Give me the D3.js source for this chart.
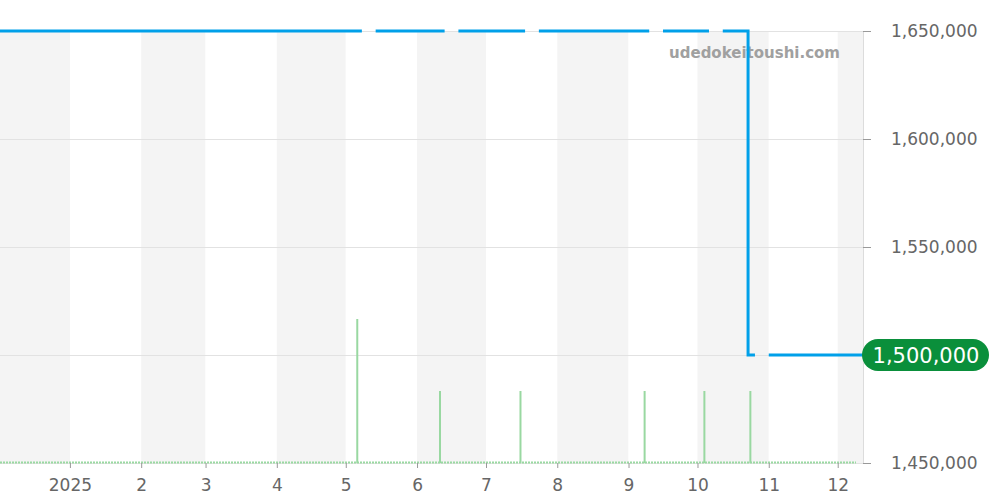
<!DOCTYPE html>
<html>
<head>
<meta charset="utf-8">
<script src="https://cdn.jsdelivr.net/npm/d3@7"></script>
<style>
  body { margin: 0; background: #fff; }
  text { font-family: "DejaVu Sans", sans-serif; }
</style>
</head>
<body>
<div id="chart"></div>
<script>
  var width = 1000,
  height = 500;

  // price series, null = no data (gap in the line)
  var priceDates = ["2024-12-01", "2025-05-08", "2025-05-11", "2025-05-14", "2025-06-13", "2025-06-16",
    "2025-06-19", "2025-07-18", "2025-07-21", "2025-07-24", "2025-09-10", "2025-09-13",
    "2025-09-16", "2025-10-06", "2025-10-09", "2025-10-12", "2025-10-23", "2025-10-26",
    "2025-10-29", "2025-11-01", "2025-12-12"];
  var priceValues = [1650000, 1650000, null, 1650000, 1650000, null,
    1650000, 1650000, null, 1650000, 1650000, null,
    1650000, 1650000, null, 1650000, 1500000, 1500000,
    null, 1500000, 1500000];

  // listing counts (green sticks)
  var countDates = ["2025-05-06", "2025-06-11", "2025-07-16", "2025-09-08", "2025-10-04", "2025-10-24"];
  var countValues = [2, 1, 1, 1, 1, 1];

  var yTicks = [1450000, 1500000, 1550000, 1600000, 1650000];
  var lastPrice = 1500000;

  var parse = d3.timeParse("%Y-%m-%d");

  var plotLeft = 0, plotRight = 863, plotTop = 31, plotBottom = 463;

  var x = d3.scaleTime()
      .domain([new Date(2024, 11, 1, 14), new Date(2025, 11, 12)])
      .range([plotLeft, plotRight])
      .clamp(true);

  var y = d3.scaleLinear()
      .domain([1450000, 1650000])
      .range([plotBottom, plotTop]);

  var yCount = d3.scaleLinear()
      .domain([0, 6])
      .range([plotBottom, plotTop]);

  var svg = d3.select("#chart").append("svg")
      .attr("width", width)
      .attr("height", height);

  // alternating month bands
  var months = d3.timeMonth.range(d3.timeMonth.floor(x.domain()[0]), x.domain()[1]);
  svg.append("g")
    .selectAll("rect")
    .data(months)
    .enter().append("rect")
      .attr("x", function(d) { return x(d); })
      .attr("y", plotTop)
      .attr("width", function(d) { return x(d3.timeMonth.offset(d, 1)) - x(d); })
      .attr("height", plotBottom - plotTop)
      .attr("fill", function(d, i) { return i % 2 == 0 ? "#f4f4f4" : "#fff"; });

  // horizontal grid
  svg.append("g")
    .selectAll("line")
    .data(yTicks)
    .enter().append("line")
      .attr("x1", plotLeft)
      .attr("x2", plotRight)
      .attr("y1", function(d) { return y(d) + 0.5; })
      .attr("y2", function(d) { return y(d) + 0.5; })
      .attr("stroke", "#e2e2e2");

  svg.append("line")
      .attr("x1", plotRight + 0.5).attr("x2", plotRight + 0.5)
      .attr("y1", plotTop).attr("y2", plotBottom)
      .attr("stroke", "#dcdcdc");

  // watermark
  svg.append("text")
      .attr("x", 840)
      .attr("y", 58)
      .attr("text-anchor", "end")
      .attr("font-size", "15px")
      .attr("font-weight", "bold")
      .attr("fill", "#a0a0a0")
      .text("udedokeitoushi.com");

  // green baseline + sticks
  svg.append("line")
      .attr("x1", plotLeft).attr("x2", 856)
      .attr("y1", plotBottom - 0.5).attr("y2", plotBottom - 0.5)
      .attr("stroke", "#9ad9a2")
      .attr("stroke-width", 2)
      .attr("stroke-dasharray", "2,1");

  svg.append("g")
    .selectAll("line")
    .data(countDates)
    .enter().append("line")
      .attr("x1", function(d) { return x(parse(d)); })
      .attr("x2", function(d) { return x(parse(d)); })
      .attr("y1", plotBottom)
      .attr("y2", function(d, i) { return yCount(countValues[i]); })
      .attr("stroke", "#99d8a1")
      .attr("stroke-width", 2);

  // price line
  var pts = priceDates.map(function(d, i) { return [parse(d), priceValues[i]]; });
  var line = d3.line()
      .defined(function(d) { return d[1] != null; })
      .x(function(d) { return x(d[0]); })
      .y(function(d) { return y(d[1]); })
      .curve(d3.curveStepAfter);

  svg.append("path")
      .datum(pts)
      .attr("d", line)
      .attr("fill", "none")
      .attr("stroke", "#00a0e9")
      .attr("stroke-width", 3);

  // bottom axis
  var xTickDates = d3.timeMonth.range(parse("2025-01-01"), parse("2025-12-02"));
  var xAxis = svg.append("g")
      .attr("transform", "translate(0," + plotBottom + ")")
      .call(d3.axisBottom(x)
        .tickValues(xTickDates)
        .tickSize(5)
        .tickPadding(11)
        .tickFormat(function(d) { return d.getMonth() == 0 ? d.getFullYear() : d.getMonth() + 1; }));
  xAxis.select(".domain").remove();
  xAxis.selectAll("line").attr("stroke", "#999");
  xAxis.selectAll("text")
      .attr("font-size", "17px")
      .attr("font-family", "DejaVu Sans")
      .attr("fill", "#666");

  // right axis (the last-price badge covers its own tick label)
  var yAxis = svg.append("g")
      .attr("transform", "translate(" + plotRight + ",0)")
      .call(d3.axisRight(y)
        .tickValues(yTicks.filter(function(d) { return d != lastPrice; }))
        .tickSize(8)
        .tickPadding(20)
        .tickFormat(d3.format(",")));
  yAxis.select(".domain").remove();
  yAxis.selectAll("line").attr("stroke", "#999");
  yAxis.selectAll("text")
      .attr("font-size", "17px")
      .attr("font-family", "DejaVu Sans")
      .attr("fill", "#666");

  // last price badge
  var badge = svg.append("g")
      .attr("transform", "translate(862," + y(lastPrice) + ")");
  badge.append("rect")
      .attr("x", 0)
      .attr("y", -16)
      .attr("width", 127)
      .attr("height", 32)
      .attr("rx", 16)
      .attr("fill", "#0a8f3b");
  badge.append("text")
      .attr("x", 64)
      .attr("y", 0)
      .attr("dy", "0.36em")
      .attr("text-anchor", "middle")
      .attr("font-size", "21px")
      .attr("fill", "#fff")
      .text(d3.format(",")(lastPrice));
</script>
</body>
</html>
